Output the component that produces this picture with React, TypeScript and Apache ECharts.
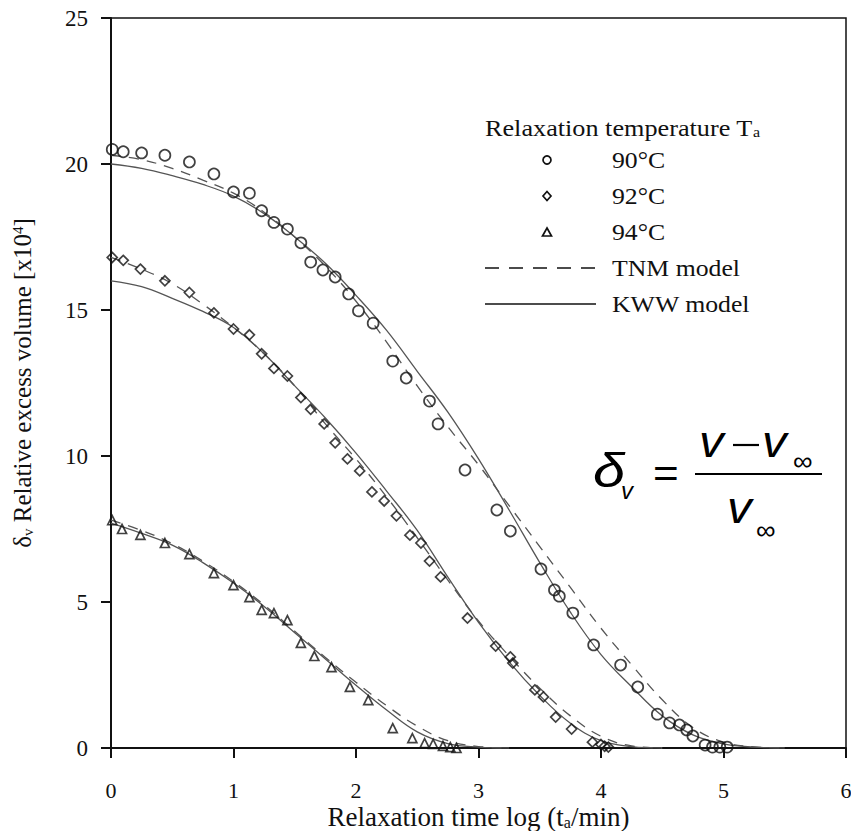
import React, { useEffect, useRef } from 'react';
import * as echarts from 'echarts';

// ---- data ----
const xTickLabels = ['0', '1', '2', '3', '4', '5', '6'];
const yTickLabels = ['0', '5', '10', '15', '20', '25'];

const obs90: [number, number][] = [
  [0.01, 20.5], [0.1, 20.42], [0.25, 20.38], [0.44, 20.3], [0.64, 20.07], [0.84, 19.66],
  [1.0, 19.04], [1.13, 19.0], [1.23, 18.4], [1.33, 18.0], [1.44, 17.77], [1.55, 17.3],
  [1.63, 16.64], [1.73, 16.37], [1.83, 16.13], [1.94, 15.55], [2.02, 14.97], [2.14, 14.55],
  [2.3, 13.25], [2.41, 12.67], [2.6, 11.88], [2.67, 11.1], [2.89, 9.52], [3.15, 8.15],
  [3.26, 7.43], [3.51, 6.13], [3.62, 5.41], [3.66, 5.2], [3.77, 4.62], [3.94, 3.53],
  [4.16, 2.84], [4.3, 2.09], [4.46, 1.16], [4.56, 0.86], [4.64, 0.79], [4.7, 0.62],
  [4.75, 0.41], [4.85, 0.1], [4.91, 0.03], [4.97, 0.03], [5.03, 0.03]
];
const obs92: [number, number][] = [
  [0.01, 16.8], [0.1, 16.7], [0.24, 16.4], [0.44, 16.0], [0.64, 15.6], [0.84, 14.9],
  [1.0, 14.35], [1.13, 14.15], [1.23, 13.5], [1.33, 13.0], [1.44, 12.74], [1.55, 12.0],
  [1.63, 11.6], [1.74, 11.1], [1.83, 10.45], [1.93, 9.9], [2.03, 9.49], [2.13, 8.77],
  [2.23, 8.46], [2.33, 7.95], [2.44, 7.29], [2.53, 7.02], [2.6, 6.4], [2.69, 5.86],
  [2.91, 4.45], [3.14, 3.49], [3.26, 3.12], [3.28, 2.91], [3.46, 1.99], [3.53, 1.75],
  [3.63, 1.06], [3.76, 0.65], [3.93, 0.2], [4.0, 0.12], [4.03, 0.06], [4.06, 0.03]
];
const obs94: [number, number][] = [
  [0.01, 7.8], [0.09, 7.5], [0.24, 7.3], [0.44, 7.02], [0.64, 6.64], [0.84, 5.99],
  [1.0, 5.58], [1.13, 5.17], [1.23, 4.73], [1.33, 4.62], [1.44, 4.38], [1.55, 3.6],
  [1.66, 3.15], [1.8, 2.77], [1.95, 2.09], [2.1, 1.64], [2.3, 0.68], [2.46, 0.34],
  [2.56, 0.17], [2.63, 0.14], [2.71, 0.07], [2.77, 0.03], [2.82, 0.0]
];

const modelX90 = [0, 0.25, 0.5, 0.75, 1, 1.25, 1.5, 1.75, 2, 2.25, 2.5, 2.75, 3, 3.25, 3.5, 3.75, 4, 4.25, 4.5, 4.75, 5, 5.25, 5.5];
const tnm90 = [20.3, 20.15, 19.85, 19.45, 19.0, 18.35, 17.5, 16.5, 15.3, 13.9, 12.4, 11.0, 9.7, 8.3, 6.9, 5.5, 4.1, 2.85, 1.65, 0.7, 0.2, 0.04, 0];
const kww90 = [20.0, 19.85, 19.6, 19.3, 18.9, 18.3, 17.5, 16.6, 15.5, 14.3, 12.9, 11.5, 9.9, 8.15, 6.35, 4.65, 3.2, 2.1, 1.1, 0.45, 0.14, 0.03, 0];

const modelX92 = [0, 0.25, 0.5, 0.75, 1, 1.25, 1.5, 1.75, 2, 2.25, 2.5, 2.75, 3, 3.25, 3.5, 3.75, 4, 4.25, 4.5];
const tnm92 = [16.8, 16.4, 15.9, 15.2, 14.4, 13.5, 12.4, 11.1, 9.9, 8.6, 7.2, 5.75, 4.35, 3.15, 2.05, 1.1, 0.4, 0.07, 0];
const kww92 = [16.0, 15.8, 15.4, 14.95, 14.4, 13.5, 12.4, 11.3, 10.1, 8.8, 7.45, 5.85, 4.3, 2.95, 1.8, 0.85, 0.25, 0.05, 0];

const modelX94 = [0, 0.25, 0.5, 0.75, 1, 1.25, 1.5, 1.75, 2, 2.25, 2.5, 2.75, 3, 3.25];
const tnm94 = [7.8, 7.45, 7.0, 6.4, 5.7, 4.9, 4.0, 3.1, 2.25, 1.45, 0.75, 0.25, 0.05, 0];
const kww94 = [7.7, 7.35, 6.95, 6.35, 5.65, 4.85, 3.95, 3.05, 2.15, 1.3, 0.55, 0.15, 0.03, 0];

const legendLabels = ['90°C', '92°C', '94°C', 'TNM model', 'KWW model'];

const SERIF = '"Liberation Serif", "Times New Roman", serif';
const SANS = '"Liberation Sans", Arial, sans-serif';
const LINE_COLOR = '#555';
const INK = '#111';

function pairs(xs: number[], ys: number[]) {
  return xs.map((x, i) => [x, ys[i]]);
}

export default function App() {
  const ref = useRef<HTMLDivElement>(null);
  useEffect(() => {
    document.body.style.margin = '0';
    const chart = echarts.init(ref.current!, undefined, { renderer: 'svg' });

    const lineSeries = (data: number[][], dashed: boolean) => ({
      type: 'line',
      data,
      smooth: 0.4,
      showSymbol: false,
      symbol: 'none',
      silent: true,
      z: 2,
      lineStyle: { color: LINE_COLOR, width: 1.3, type: dashed ? [10, 8] : 'solid' },
    });
    const scatter = (data: number[][], symbol: string, size: number) => ({
      type: 'scatter',
      data,
      symbol,
      symbolSize: size,
      z: 3,
      itemStyle: { color: 'rgba(255,255,255,0)', borderColor: INK, borderWidth: 1.7 },
    });

    const legX = 485;
    const legTextX = 612;
    const legY = [160, 196, 232, 268, 304];
    const legScale = 1.12;

    const ftxt = (text: string, x: number, y: number, size: number, italic: boolean, sx = 1) => ({
      type: 'text', x, y, scaleX: sx,
      style: { text, fontFamily: SANS, fontStyle: italic ? 'italic' : 'normal', fontSize: size, fill: '#000', verticalAlign: 'middle' },
    });

    chart.setOption({
      animation: false,
      backgroundColor: '#fff',
      grid: {
        left: 111, right: 5, top: 18, bottom: 83, show: true, borderColor: INK, borderWidth: 1.5,
        containLabel: false, outerBoundsMode: 'none',
      },
      xAxis: {
        type: 'value', min: 0, max: 6, interval: 1,
        name: 'Relaxation time log (t{s|a}/min)',
        nameLocation: 'middle', nameGap: 56, nameMoveOverlap: false,
        nameTextStyle: {
          fontFamily: SERIF, fontSize: 27, lineHeight: 26, color: INK,
          rich: { s: { fontFamily: SERIF, fontSize: 16, lineHeight: 26, verticalAlign: 'bottom', padding: [10, 0, 0, 0], color: INK } },
        },
        axisLine: { lineStyle: { color: INK, width: 2 } },
        axisTick: { inside: false, length: 10, lineStyle: { color: INK, width: 2 } },
        axisLabel: { fontFamily: SERIF, fontSize: 22, lineHeight: 18, color: INK, margin: 33, formatter: (v: number) => xTickLabels[Math.round(v)] },
        splitLine: { show: false },
      },
      yAxis: {
        type: 'value', min: 0, max: 25, interval: 5,
        name: '{d|δ}{s|v} Relative excess volume [x10{p|4}]',
        nameLocation: 'middle', nameGap: 76, nameRotate: 90, nameMoveOverlap: false,
        nameTextStyle: {
          fontFamily: SERIF, fontSize: 25, lineHeight: 25, color: INK,
          rich: {
            d: { fontFamily: SERIF, fontSize: 25, color: INK },
            s: { fontFamily: SERIF, fontSize: 15, verticalAlign: 'bottom', color: INK },
            p: { fontFamily: SERIF, fontSize: 15, verticalAlign: 'top', color: INK },
          },
        },
        axisLine: { show: true, lineStyle: { color: INK, width: 2 } },
        axisTick: { show: true, inside: false, length: 10, lineStyle: { color: INK, width: 2 } },
        axisLabel: { fontFamily: SERIF, fontSize: 23, color: INK, margin: 23, formatter: (v: number) => yTickLabels[Math.round(v / 5)] },
        splitLine: { show: false },
      },
      series: [
        lineSeries(pairs(modelX90, tnm90), true),
        lineSeries(pairs(modelX90, kww90), false),
        lineSeries(pairs(modelX92, tnm92), true),
        lineSeries(pairs(modelX92, kww92), false),
        lineSeries(pairs(modelX94, tnm94), true),
        lineSeries(pairs(modelX94, kww94), false),
        scatter(obs90, 'circle', 11),
        scatter(obs92, 'diamond', 10),
        scatter(obs94, 'triangle', 9),
      ],
      graphic: [
        {
          type: 'text', x: legX, y: 128, scaleX: 1.14,
          style: {
            text: 'Relaxation temperature T{s|a}', fontFamily: SERIF, fontSize: 23, fill: INK,
            verticalAlign: 'middle',
            rich: { s: { fontFamily: SERIF, fontSize: 14, verticalAlign: 'bottom', fill: INK } },
          },
        },
        { type: 'circle', shape: { cx: 547, cy: legY[0], r: 4 }, style: { fill: 'none', stroke: INK, lineWidth: 1.7 } },
        { type: 'polygon', shape: { points: [[547, legY[1] - 4.5], [551, legY[1]], [547, legY[1] + 4.5], [543, legY[1]]] }, style: { fill: 'none', stroke: INK, lineWidth: 1.7 } },
        { type: 'polygon', shape: { points: [[547, legY[2] - 4], [551.5, legY[2] + 4], [542.5, legY[2] + 4]] }, style: { fill: 'none', stroke: INK, lineWidth: 1.7 } },
        { type: 'line', shape: { x1: legX, y1: legY[3], x2: 596, y2: legY[3] }, style: { stroke: INK, lineWidth: 1.6, lineDash: [14, 10] } },
        { type: 'line', shape: { x1: legX, y1: legY[4], x2: 596, y2: legY[4] }, style: { stroke: INK, lineWidth: 1.6 } },
        ...legendLabels.map((t, i) => ({
          type: 'text', x: legTextX, y: legY[i], scaleX: legScale,
          style: { text: t, fontFamily: SERIF, fontSize: 23, fill: INK, verticalAlign: 'middle' },
        })),
        // formula  δv = (v − v∞) / v∞
        ftxt('δ', 593, 470, 48, true, 1.2),
        ftxt('v', 621, 490, 24, true),
        ftxt('=', 653, 473, 40, false, 1.1),
        ftxt('v', 699, 442, 44, true, 1.12),
        { type: 'line', shape: { x1: 733, y1: 445, x2: 759, y2: 445 }, style: { stroke: '#000', lineWidth: 2.2 } },
        ftxt('v', 762, 442, 44, true, 1.12),
        ftxt('∞', 793, 461, 26, false, 1.05),
        { type: 'line', shape: { x1: 695, y1: 474, x2: 822, y2: 474 }, style: { stroke: '#000', lineWidth: 2 } },
        ftxt('v', 727, 508, 44, true, 1.12),
        ftxt('∞', 756, 530, 26, false, 1.05),
      ],
    });
    return () => chart.dispose();
  }, []);
  return <div ref={ref} style={{ width: 851, height: 831 }} />;
}
